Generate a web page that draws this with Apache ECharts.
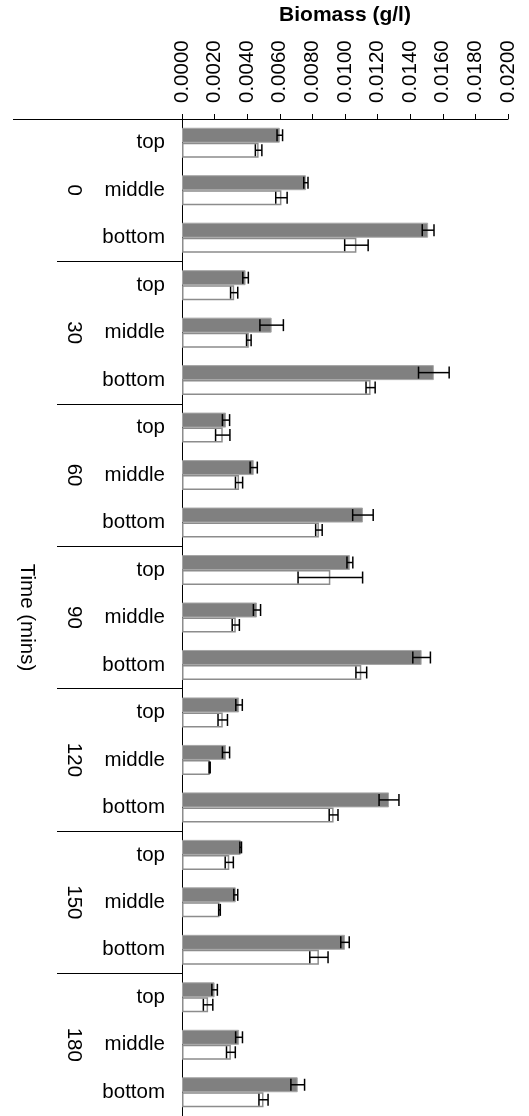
<!DOCTYPE html>
<html>
<head>
<meta charset="utf-8">
<script src="https://cdn.jsdelivr.net/npm/echarts@6/dist/echarts.min.js"></script>
<style>
  html, body { margin: 0; padding: 0; background: #fff; }
  #chart { width: 529px; height: 1116px; }
</style>
</head>
<body>
<div id="chart"></div>
<script>
// Sampling times (mins) and sampling depths
const times = ['0', '30', '60', '90', '120', '150', '180'];
const positions = ['top', 'middle', 'bottom'];

// Value axis tick settings (g/l)
const axisMin = 0;
const axisMax = 0.02;
const axisStep = 0.002;

// Filled (grey) series: mean biomass and error, ordered time by time, top/middle/bottom
const filledMean = [
  0.0060, 0.0076, 0.0151,
  0.0039, 0.0055, 0.01545,
  0.0027, 0.0044, 0.0111,
  0.0103, 0.0046, 0.0147,
  0.0035, 0.0027, 0.0127,
  0.0036, 0.0033, 0.0100,
  0.0020, 0.0035, 0.0071
];
const filledErr = [
  0.00017, 0.00013, 0.00036,
  0.00017, 0.00072, 0.00094,
  0.00022, 0.00022, 0.00063,
  0.00018, 0.00022, 0.00054,
  0.00020, 0.00022, 0.00061,
  0.00005, 0.00012, 0.00026,
  0.00017, 0.00021, 0.00042
];

// Open (white) series: mean biomass and error
const openMean = [
  0.0047, 0.0061, 0.0107,
  0.0032, 0.0041, 0.01157,
  0.0025, 0.0035, 0.0084,
  0.0091, 0.0033, 0.0110,
  0.0025, 0.0017, 0.0093,
  0.0029, 0.0023, 0.0084,
  0.0016, 0.0030, 0.0050
];
const openErr = [
  0.00020, 0.00035, 0.00072,
  0.00022, 0.00014, 0.00028,
  0.00044, 0.00022, 0.00020,
  0.00198, 0.00022, 0.00033,
  0.00029, 0.00003, 0.00027,
  0.00025, 0.00005, 0.00056,
  0.00029, 0.00027, 0.00028
];

// One category per (time, depth) pair
const categories = [];
times.forEach(t => positions.forEach(p => categories.push(t + '|' + p)));

const FONT = "'Liberation Sans', Arial, sans-serif";
const BAR_W = 15;
const CAP = 6;

// Error bar data: [mean, categoryIndex, error, side] (side -1 = upper bar, +1 = lower bar)
const errFilled = filledMean.map((m, i) => [m, i, filledErr[i], -1]);
const errOpen = openMean.map((m, i) => [m, i, openErr[i], 1]);

function renderErr(params, api) {
  const mean = api.value(0), idx = api.value(1), err = api.value(2), side = api.value(3);
  const lo = api.coord([mean - err, idx]);
  const hi = api.coord([mean + err, idx]);
  const y = lo[1] + side * BAR_W / 2;
  const style = { stroke: '#000', lineWidth: 1.5 };
  return {
    type: 'group',
    children: [
      { type: 'line', shape: { x1: lo[0], y1: y, x2: hi[0], y2: y }, style },
      { type: 'line', shape: { x1: lo[0], y1: y - CAP, x2: lo[0], y2: y + CAP }, style },
      { type: 'line', shape: { x1: hi[0], y1: y - CAP, x2: hi[0], y2: y + CAP }, style }
    ]
  };
}

const chart = echarts.init(document.getElementById('chart'), null, { renderer: 'canvas' });
chart.setOption({
  animation: false,
  backgroundColor: '#fff',
  textStyle: { fontFamily: FONT },
  grid: { left: 182, right: 21, top: 119, height: 997, containLabel: false },
  xAxis: {
    type: 'value',
    position: 'top',
    min: axisMin,
    max: axisMax,
    interval: axisStep,
    name: 'Biomass (g/l)',
    nameLocation: 'middle',
    nameGap: 93,
    nameTextStyle: { fontFamily: FONT, fontWeight: 'bold', fontSize: 21, color: '#000' },
    axisLine: { show: true, lineStyle: { color: '#000', width: 1 } },
    axisTick: { show: true, inside: false, length: 5, lineStyle: { color: '#000' } },
    axisLabel: {
      rotate: -90,
      margin: 16,
      fontFamily: FONT,
      fontSize: 20.5,
      color: '#000',
      formatter: v => v.toFixed(4)
    },
    splitLine: { show: false }
  },
  yAxis: [
    {
      type: 'category',
      data: categories,
      inverse: true,
      position: 'left',
      axisLine: { show: true, lineStyle: { color: '#000', width: 1 } },
      axisTick: { show: false },
      axisLabel: {
        margin: 17,
        fontFamily: FONT,
        fontSize: 20.5,
        color: '#000',
        formatter: v => v.split('|')[1]
      },
      splitLine: { show: false }
    },
    {
      type: 'category',
      data: times,
      inverse: true,
      position: 'left',
      axisLine: { show: false },
      axisTick: { show: true, inside: false, length: 125, lineStyle: { color: '#000', width: 1 } },
      axisLabel: {
        rotate: -90,
        margin: 98,
        fontFamily: FONT,
        fontSize: 20.5,
        color: '#000'
      },
      splitLine: { show: false }
    },
    {
      type: 'category',
      data: [''],
      inverse: true,
      position: 'left',
      name: 'Time (mins)',
      nameLocation: 'middle',
      nameRotate: -90,
      nameGap: 145,
      nameTextStyle: { fontFamily: FONT, fontSize: 20.5, color: '#000' },
      axisLine: { show: false },
      axisTick: { show: true, inside: false, length: 169, lineStyle: { color: '#000', width: 1 } },
      axisLabel: { show: false },
      splitLine: { show: false }
    }
  ],
  series: [
    {
      type: 'bar',
      yAxisIndex: 0,
      data: filledMean,
      barWidth: BAR_W,
      barGap: '0%',
      itemStyle: { color: '#808080', borderColor: '#a6a6a6', borderWidth: 1 }
    },
    {
      type: 'bar',
      yAxisIndex: 0,
      data: openMean,
      barWidth: BAR_W,
      barGap: '0%',
      itemStyle: { color: '#ffffff', borderColor: '#8c8c8c', borderWidth: 1.5 }
    },
    {
      type: 'custom',
      yAxisIndex: 0,
      data: errFilled,
      encode: { x: 0, y: 1 },
      renderItem: renderErr,
      z: 5
    },
    {
      type: 'custom',
      yAxisIndex: 0,
      data: errOpen,
      encode: { x: 0, y: 1 },
      renderItem: renderErr,
      z: 5
    }
  ]
});
</script>
</body>
</html>
